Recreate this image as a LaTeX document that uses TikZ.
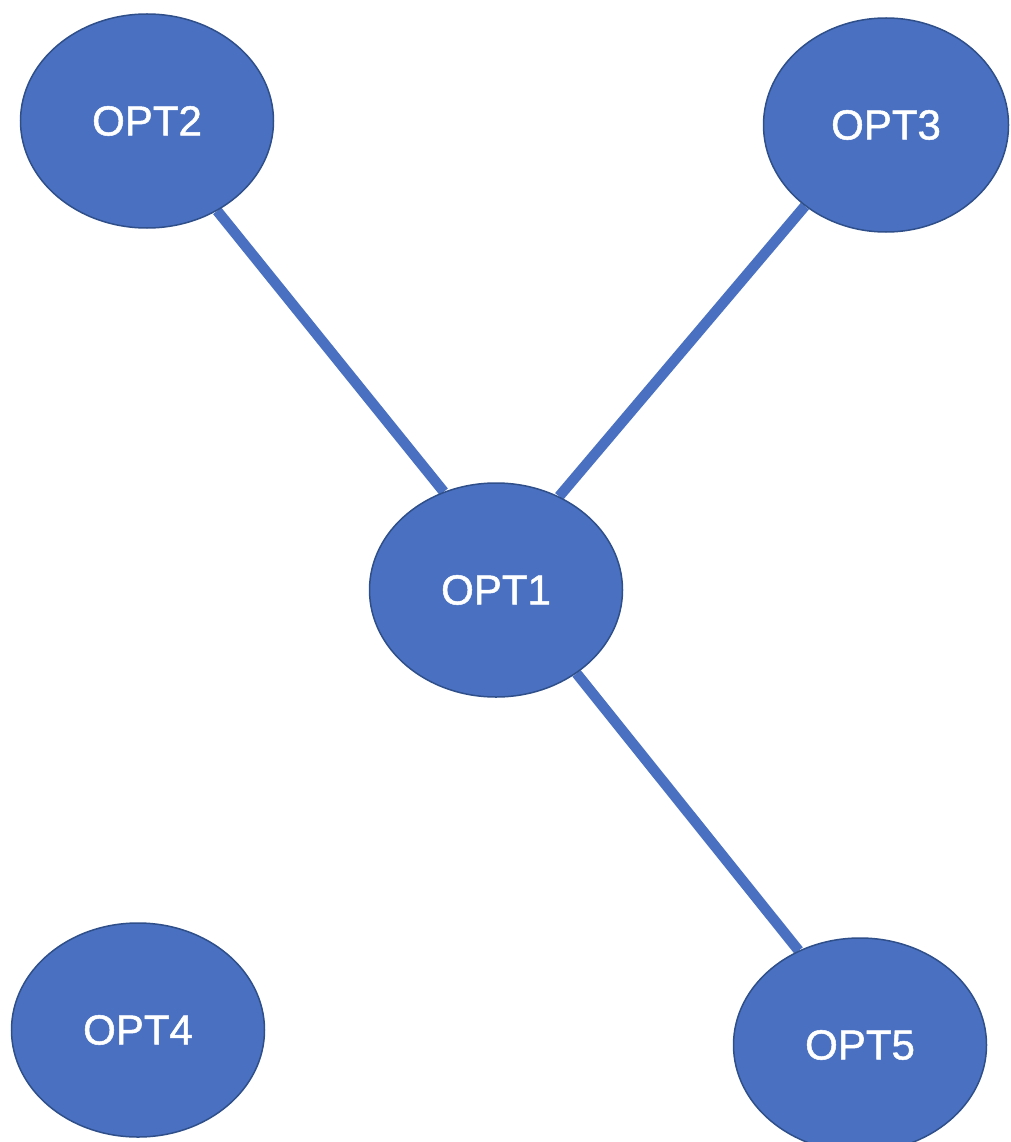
\documentclass[tikz,border=0pt]{standalone}
\usepackage{fontspec}
\setmainfont{Liberation Sans}
\newfontfamily\optfont[FakeBold=1.2]{Liberation Sans}
\usetikzlibrary{shapes.geometric,backgrounds}
\definecolor{optfill}{HTML}{4A71C1}
\definecolor{optedge}{HTML}{2F4F8A}
\tikzset{
  opt/.style={ellipse, fill=optfill, draw=optedge, line width=1.5pt,
    minimum width=253pt, minimum height=214pt, inner sep=0pt,
    text=white, font=\optfont\fontsize{42}{50}\selectfont},
  link/.style={draw=optfill, line width=10.5pt}
}
\begin{document}
\begin{tikzpicture}[x=1pt,y=-1pt]
  \useasboundingbox (0,0) rectangle (1010,1142);
  \node[opt] (opt2) at (147,121) {OPT2};
  \node[opt, minimum width=245pt] (opt3) at (886,125) {OPT3};
  \node[opt] (opt1) at (496,590) {OPT1};
  \node[opt] (opt4) at (138,1030) {OPT4};
  \node[opt] (opt5) at (860,1045) {OPT5};
  \begin{pgfonlayer}{background}
    \draw[link] (opt2.-52) -- (opt1.118);
    \draw[link] (opt3.-135) -- (opt1.56);
    \draw[link] (opt1.-46) -- (opt5.123);
  \end{pgfonlayer}
\end{tikzpicture}
\end{document}
